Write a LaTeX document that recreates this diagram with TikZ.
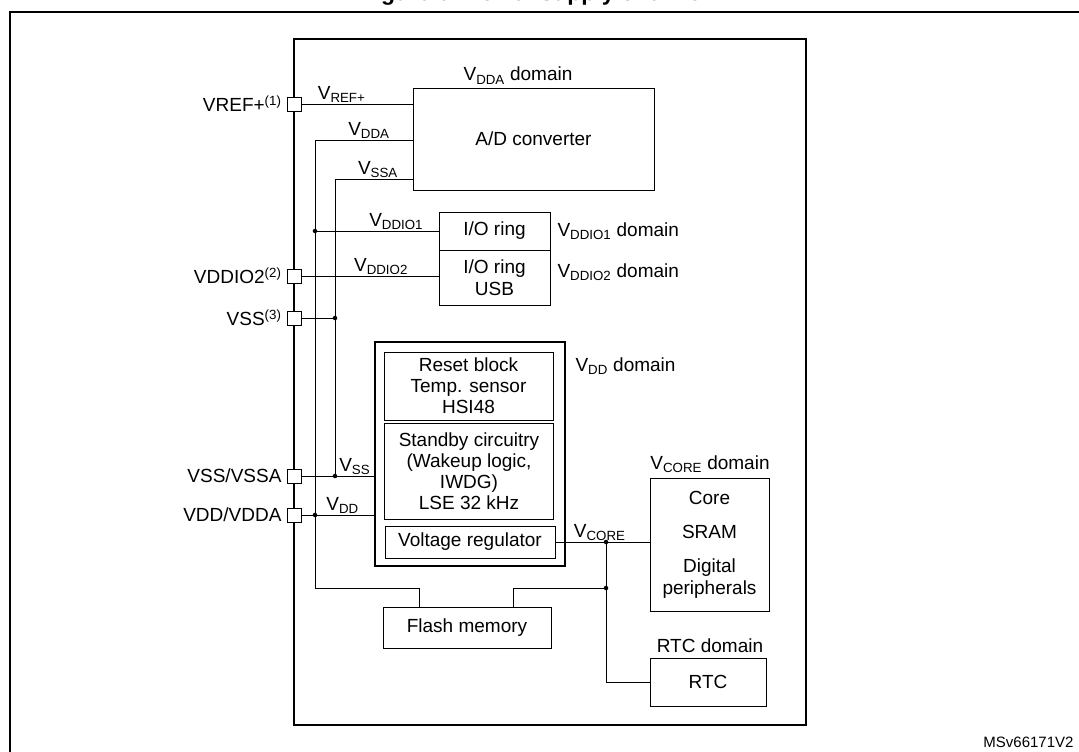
\documentclass[tikz,border=0pt]{standalone}
\usepackage{fontspec}
\setmainfont{Liberation Sans}
\usetikzlibrary{calc}
\newcommand{\Vsub}[1]{V\textsubscript{#1}}
\newcommand{\pad}[2]{\draw[thick,fill=white] ( #1 - 7 , #2 - 7 ) rectangle ( #1 + 7 , #2 + 7 );}
\tikzset{
  blk/.style={draw,line width=0.9pt,inner sep=0pt},
  wire/.style={line width=0.6pt},
  dot/.style={circle,fill,inner sep=1.6pt},
  lbl/.style={font=\fontsize{19}{22}\selectfont},
  wl/.style={font=\fontsize{19}{22}\selectfont,inner sep=1pt,anchor=south}
}
\begin{document}
\begin{tikzpicture}[x=1pt,y=-1pt,font=\fontsize{19}{22}\selectfont]
        \useasboundingbox (0,0) rectangle (1079,752);
        % title and frame
        \node[font=\bfseries\fontsize{23}{26}\selectfont,anchor=base] (title) at (540,1) {Figure 6. Power supply overview};
        \draw[line width=1.6pt] (1079,12) -- (10,12) -- (10,760);
        \node[font=\fontsize{15}{17}\selectfont,anchor=east] (ref) at (1077,742) {MSv66171V2};
        % chip
        \draw[line width=1.3pt] (294,39) rectangle (806,725);
        % blocks
        \node[blk,minimum width=241pt,minimum height=102pt] (adc) at (533.5,139) {A/D converter};
        \node[blk,minimum width=111pt,minimum height=38pt] (io1) at (494.5,231) {I/O ring};
        \node[blk,minimum width=111pt,minimum height=55pt,align=center] (io2) at (494.5,277.5) {I/O ring\\USB};
        \draw[line width=1.1pt] (375,342) rectangle (565,566);
        \node[blk,minimum width=169pt,minimum height=68pt,align=center,font=\fontsize{19}{21}\selectfont] (rst) at (468.5,386) {Reset block\\Temp. sensor\\HSI48};
        \node[blk,minimum width=169pt,minimum height=96pt,align=center,font=\fontsize{19}{21}\selectfont] (stby) at (469,471) {Standby circuitry\\(Wakeup logic,\\IWDG)\\LSE 32 kHz};
        \node[blk,minimum width=170pt,minimum height=32pt] (reg) at (470,542) {Voltage regulator};
        \node[blk,minimum width=168pt,minimum height=41pt] (flash) at (467,627.5) {Flash memory};
        \node[blk,minimum width=119pt,minimum height=133pt,align=center] (core) at (709.5,544.5) {Core\\[12pt]SRAM\\[12pt]Digital\\peripherals};
        \node[blk,minimum width=116pt,minimum height=48pt] (rtc) at (708,682) {RTC};
        % domain labels
        \node[lbl,anchor=base] (dda) at (518,81) {\Vsub{DDA} domain};
        \node[lbl,anchor=west] (dio1) at (554,231) {\Vsub{DDIO1} domain};
        \node[lbl,anchor=west] (dio2) at (554,272) {\Vsub{DDIO2} domain};
        \node[lbl,anchor=west] (ddd) at (572,366) {\Vsub{DD} domain};
        \node[lbl,anchor=base] (dcore) at (710,469) {\Vsub{CORE} domain};
        \node[lbl,anchor=base] (drtc) at (710,652) {RTC domain};
        % junctions
        \coordinate (jdda) at (315,140);
        \coordinate (jssa) at (335,179);
        \node[dot] (d1) at (315,231) {};
        \node[dot] (d2) at (335,318) {};
        \node[dot] (d3) at (335,476) {};
        \node[dot] (d4) at (315,515) {};
        \node[dot] (d5) at (606,542) {};
        \node[dot] (d6) at (606,588) {};
        \coordinate (fc) at (315,588);
        \coordinate (fl) at (419,588);
        \coordinate (fr) at (513,588);
        \coordinate (rt) at (606,682);
        % wires
        \draw[wire] (294,104) -- (413,104) node[wl,pos=0.4] {\Vsub{REF+}};
        \draw[wire] (413,140) -- (jdda) node[wl,pos=0.45] {\Vsub{DDA}} -- (fc) -- (fl) -- (flash.north -| fl);
        \draw[wire] (413,179) -- (jssa) node[wl,pos=0.45] {\Vsub{SSA}} -- (d3);
        \draw[wire] (d1) -- (io1.west) node[wl,pos=0.65] {\Vsub{DDIO1}};
        \draw[wire] (294,276) -- (439,276) node[wl,pos=0.6] {\Vsub{DDIO2}};
        \draw[wire] (294,318) -- (d2);
        \draw[wire] (294,476) -- (375,476) node[wl,pos=0.75] {\Vsub{SS}};
        \draw[wire] (294,515) -- (375,515) node[wl,pos=0.6] {\Vsub{DD}};
        \draw[wire] (reg.east) -- (core.west |- reg.east) node[wl,pos=0.47] {\Vsub{CORE}};
        \draw[wire] (d5) -- (rt) -- (rtc.west);
        \draw[wire] (flash.north -| fr) -- (fr) -- (d6);
        % pads
        \pad{294}{104}
        \pad{294}{276}
        \pad{294}{318}
        \pad{294}{476}
        \pad{294}{515}
        % pin names
        \node[lbl,anchor=east] (pref) at (285,104) {VREF+\textsuperscript{(1)}};
        \node[lbl,anchor=east] (pio2) at (285,276) {VDDIO2\textsuperscript{(2)}};
        \node[lbl,anchor=east] (pss) at (285,318) {VSS\textsuperscript{(3)}};
        \node[lbl,anchor=east] (pssa) at (285,476) {VSS/VSSA};
        \node[lbl,anchor=east] (pdd) at (285,515) {VDD/VDDA};
\end{tikzpicture}
\end{document}
